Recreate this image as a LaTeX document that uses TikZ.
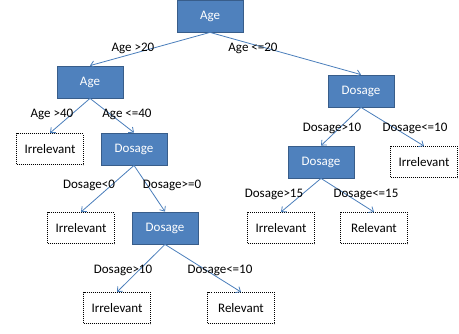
\documentclass[tikz,border=0pt]{standalone}
\usepackage{fontspec}
\setmainfont{Carlito}
\usepackage{tikz}
\usetikzlibrary{calc, positioning, shapes, arrows.meta}
\definecolor{boxblue}{RGB}{79,129,189}
\definecolor{boxedge}{RGB}{56,93,138}
\definecolor{linkblue}{RGB}{74,126,187}
\tikzset{
  test/.style={draw=boxedge, fill=boxblue, line width=0.8pt, text=white, minimum width=66pt, minimum height=32pt, inner sep=0pt},
  leaf/.style={draw=black, densely dotted, line width=1pt, minimum width=67pt, minimum height=31pt, inner sep=0pt},
  link/.style={draw=linkblue, line width=0.8pt, -{Straight Barb[length=4pt,width=7pt]}},
  cond/.style={inner sep=0pt}
}
\begin{document}
\begin{tikzpicture}[x=1pt, y=-1pt, font=\fontsize{13}{15}\selectfont]%decision tree
\useasboundingbox (0,0) rectangle (459,333);
% tests
\node[test] (age0) at (210,16) {Age};
\node[test] (age1) at (90,82) {Age};
\node[test] (dos1) at (134,149) {Dosage};
\node[test] (dos2) at (165,228) {Dosage};
\node[test] (dos3) at (361,91) {Dosage};
\node[test] (dos4) at (321,162) {Dosage};
% leaves
\node[leaf] (irr1) at (50,149) {Irrelevant};
\node[leaf] (irr2) at (81,228) {Irrelevant};
\node[leaf] (irr3) at (117,308) {Irrelevant};
\node[leaf] (rel1) at (241,308) {Relevant};
\node[leaf] (irr4) at (424,162) {Irrelevant};
\node[leaf] (irr5) at (281,228) {Irrelevant};
\node[leaf] (rel2) at (374,228) {Relevant};
% links
\draw[link] (age0.south) -- (age1.north);
\draw[link] (age0.south) -- (dos3.north);
\draw[link] (age1.south) -- (irr1.north);
\draw[link] (age1.south) -- (dos1.north);
\draw[link] (dos1.south) -- (irr2.north);
\draw[link] (dos1.south) -- (dos2.north);
\draw[link] (dos2.south) -- (irr3.north);
\draw[link] (dos2.south) -- (rel1.north);
\draw[link] (dos3.south) -- (dos4.north);
\draw[link] (dos3.south) -- (irr4.north);
\draw[link] (dos4.south) -- (irr5.north);
\draw[link] (dos4.south) -- (rel2.north);
% conditions
\node[cond] (c1) at (133,48) {Age >20};
\node[cond] (c2) at (253,48) {Age <=20};
\node[cond] (c3) at (52,114) {Age >40};
\node[cond] (c4) at (127,114) {Age <=40};
\node[cond] (c5) at (89,185) {Dosage<0};
\node[cond] (c6) at (172,185) {Dosage>=0};
\node[cond] (c7) at (123,270) {Dosage>10};
\node[cond] (c8) at (220,270) {Dosage<=10};
\node[cond] (c9) at (332,128) {Dosage>10};
\node[cond] (c10) at (415,128) {Dosage<=10};
\node[cond] (c11) at (274,194) {Dosage>15};
\node[cond] (c12) at (366,194) {Dosage<=15};
\end{tikzpicture}
\end{document}
